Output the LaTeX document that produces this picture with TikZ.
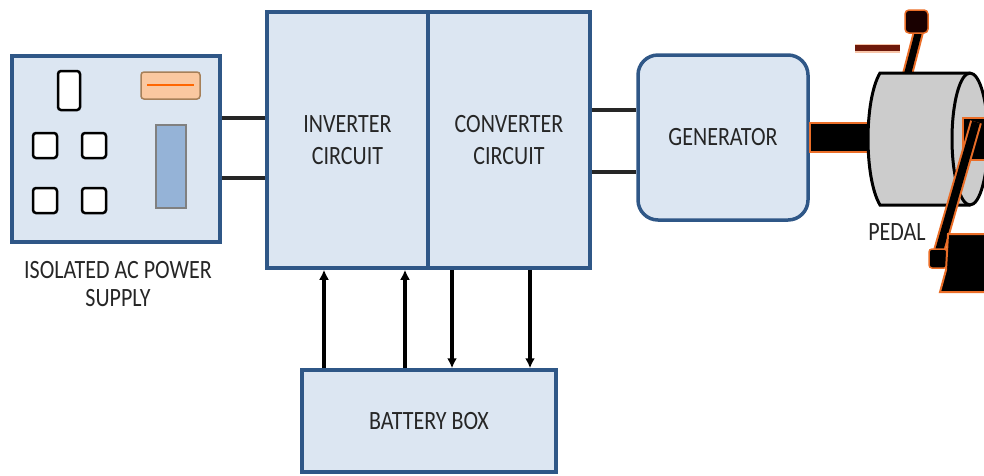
\documentclass[tikz,border=0pt]{standalone}
\usepackage{fontspec}
\setmainfont{Carlito}
\usepackage{graphicx}
\usetikzlibrary{arrows.meta}
\definecolor{boxline}{RGB}{47,87,135}
\definecolor{boxfill}{RGB}{220,230,242}
\definecolor{txt}{RGB}{38,38,38}
\definecolor{halo}{RGB}{235,110,40}
\definecolor{stub}{RGB}{110,25,10}
\newcommand{\lbl}[1]{\scalebox{1}[1.2]{#1}}
\begin{document}
\begin{tikzpicture}[x=1pt,y=-1pt]
\tikzstyle{every node}+=[inner sep=0pt, text=txt, font=\fontsize{22}{32}\selectfont]
\tikzstyle{block}=[draw=boxline, fill=boxfill, line width=3.5pt]
\tikzstyle{socket}=[draw=black, fill=white, line width=2.5pt, rounded corners=3pt]
\tikzstyle{wire}=[line width=3.5pt, black!85]
\tikzstyle{flow}=[line width=3.2pt, black, -{Latex[length=10pt,width=10pt]}]
\tikzstyle{glow}=[draw=halo, line width=1.5pt]
\useasboundingbox (0,0) rectangle (984,475);
\node[block, minimum width=208, minimum height=186] (supply) at (116,149) {};
\draw[socket] (58,71) rectangle (80,110);
\foreach \x/\y in {33/133, 82/133, 33/188, 82/188}
  \draw[socket] (\x,\y) rectangle ++(24,25);
\draw[fill={rgb,255:red,250;green,200;blue,160}, draw=gray!70!orange, line width=1.5pt, rounded corners=3pt] (141,72) rectangle (200,99);
\draw[orange!80!red, line width=2pt] (147,85) -- (194,85);
\draw[fill={rgb,255:red,149;green,179;blue,215}, draw=gray, line width=1.5pt] (156,125) rectangle (186,208);
\node[align=center, font=\fontsize{22}{28}\selectfont] (supplylbl) at (118,284) {\lbl{ISOLATED AC POWER}\\\lbl{SUPPLY}};
\node[block, minimum width=161, minimum height=256, align=center] (inverter) at (347.5,140) {\lbl{INVERTER}\\\lbl{CIRCUIT}};
\node[block, minimum width=162, minimum height=256, align=center] (converter) at (509,140) {\lbl{CONVERTER}\\\lbl{CIRCUIT}};
\node[block, rounded corners=20pt, minimum width=170, minimum height=165] (generator) at (723,137.5) {\lbl{GENERATOR}};
\node[block, minimum width=254, minimum height=102] (battery) at (429,421) {\lbl{BATTERY BOX}};
\draw[wire] (supply.east |- 0,118) -- (inverter.west |- 0,118);
\draw[wire] (supply.east |- 0,178) -- (inverter.west |- 0,178);
\draw[wire] (converter.east |- 0,110) -- (generator.west |- 0,110);
\draw[wire] (converter.east |- 0,172) -- (generator.west |- 0,172);
\draw[flow] (324,0 |- battery.north) -- (324,0 |- inverter.south);
\draw[flow] (405,0 |- battery.north) -- (405,0 |- inverter.south);
\draw[flow] (452,0 |- converter.south) -- (452,0 |- battery.north);
\draw[flow] (530,0 |- converter.south) -- (530,0 |- battery.north);
\filldraw[fill=black, glow] (generator.east |- 0,123) rectangle (872,152);
\draw[halo!40, line width=9pt] (855,48) -- (900,48);
\draw[stub, line width=6pt] (855,48) -- (900,48);
\draw[halo, line width=11pt] (906,80) -- (920,26);
\draw[black, line width=7pt] (906,80) -- (920,26);
\filldraw[fill=black!90!red, glow, rounded corners=4pt] (905,10) rectangle (928,33);
\filldraw[fill=black!20, draw=black, line width=3pt] (880,73) -- (970,73) arc[start angle=-90, end angle=90, x radius=18, y radius=66] -- (880,205) .. controls (864,178) and (864,100) .. (880,73) -- cycle;
\draw[black, line width=3pt] (970,73) arc[start angle=-90, end angle=-270, x radius=18, y radius=66];
\node (pedallbl) at (897,232) {\lbl{PEDAL}};
\filldraw[fill=black, glow] (963,118) rectangle (990,160);
\draw[halo, line width=12pt] (976,122) -- (937,258);
\draw[black, line width=8pt] (976,122) -- (937,258);
\filldraw[fill=black, glow, rounded corners=3pt] (929,249) rectangle (947,268);
\filldraw[fill=black, draw=halo, line width=2pt] (948,234) -- (990,234) -- (990,292) -- (940,292) -- (946,270) -- cycle;
\end{tikzpicture}
\end{document}
